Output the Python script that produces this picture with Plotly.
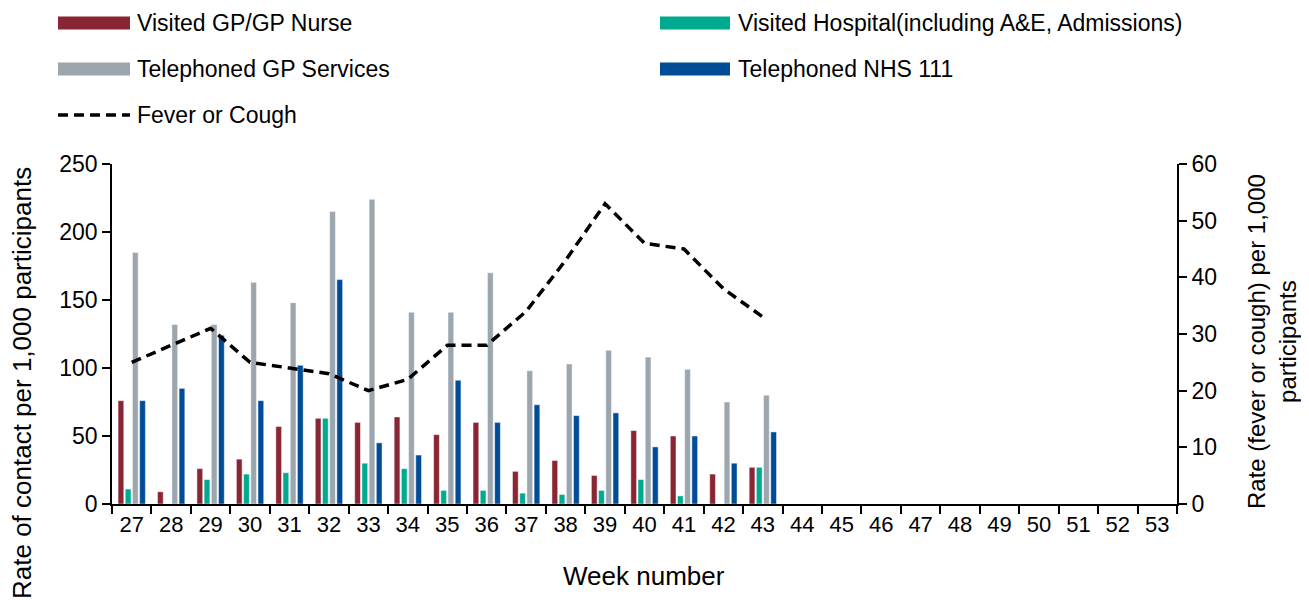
import plotly.graph_objects as go

# ---------------- data ----------------
weeks = ["27", "28", "29", "30", "31", "32", "33", "34", "35", "36", "37", "38", "39",
         "40", "41", "42", "43", "44", "45", "46", "47", "48", "49", "50", "51", "52", "53"]

visited_gp = [76, 9, 26, 33, 57, 63, 60, 64, 51, 60, 24, 32, 21, 54, 50, 22, 27,
              None, None, None, None, None, None, None, None, None, None]
visited_hospital = [11, 0, 18, 22, 23, 63, 30, 26, 10, 10, 8, 7, 10, 18, 6, 0, 27,
                    None, None, None, None, None, None, None, None, None, None]
telephoned_gp = [185, 132, 132, 163, 148, 215, 224, 141, 141, 170, 98, 103, 113, 108, 99, 75, 80,
                 None, None, None, None, None, None, None, None, None, None]
telephoned_111 = [76, 85, 124, 76, 102, 165, 45, 36, 91, 60, 73, 65, 67, 42, 50, 30, 53,
                  None, None, None, None, None, None, None, None, None, None]
fever_cough = [25, 28, 31, 25, 24, 23, 20, 22, 28, 28, 34, 43, 53, 46, 45, 38, 33,
               None, None, None, None, None, None, None, None, None, None]

series_names = ["Visited GP/GP Nurse", "Visited Hospital(including A&E, Admissions)",
                "Telephoned GP Services", "Telephoned NHS 111"]
line_name = "Fever or Cough"

left_ticks = [0, 50, 100, 150, 200, 250]
right_ticks = [0, 10, 20, 30, 40, 50, 60]

# ---------------- style ----------------
colors = ["#8A2634", "#00AA8E", "#9BA6AF", "#004C97"]
FONT = "Arial, Liberation Sans, sans-serif"
OFF = 8  # default page body margin
W, H = 1309 - OFF, 614 - OFF
# plot area in reference-page pixels: x 112..1177, y 164..504
L = 112 - OFF
R = 1309 - 1177
T = 164 - OFF
B = 614 - 504


def px2x(px):
    return (px - OFF - L) / (W - L - R)


def px2y(py):
    return (H - B - (py - OFF)) / (H - T - B)


fig = go.Figure()
for name, vals, col in zip(series_names,
                           [visited_gp, visited_hospital, telephoned_gp, telephoned_111],
                           colors):
    fig.add_trace(go.Bar(x=weeks, y=vals, name=name, marker_color=col,
                         marker_line=dict(color="rgba(255,255,255,0.8)", width=0.6),
                         showlegend=False))

fig.add_trace(go.Scatter(x=weeks, y=fever_cough, name=line_name, yaxis="y2",
                         mode="lines", line=dict(color="black", width=3.5, dash="10px,6px"),
                         showlegend=False))

axis_common = dict(showgrid=False, zeroline=False, showline=True, linecolor="black",
                   linewidth=1.6, ticks="outside", ticklen=8, tickwidth=1.6,
                   tickcolor="black")

fig.update_layout(
    width=W, height=H,
    margin=dict(l=L, r=R, t=T, b=B, autoexpand=False),
    paper_bgcolor="white", plot_bgcolor="white",
    barmode="group", bargap=0.27, bargroupgap=0.2,
    showlegend=False,
    xaxis=dict(type="category", tickson="boundaries",
               tickfont=dict(family=FONT, size=22, color="black"), **axis_common),
    yaxis=dict(range=[0, 250], tickvals=left_ticks,
               tickfont=dict(family=FONT, size=23, color="black"), **axis_common),
    yaxis2=dict(range=[0, 60], tickvals=right_ticks, overlaying="y", side="right",
                tickfont=dict(family=FONT, size=23, color="black"), **axis_common),
)

# ---------------- custom legend ----------------
shapes = []
annotations = []
legend_rows = [(23, [(58, 130, 135, series_names[0], colors[0]),
                     (660, 730, 736, series_names[1], colors[1])]),
               (69, [(58, 130, 135, series_names[2], colors[2]),
                     (660, 730, 736, series_names[3], colors[3])])]
for ry, items in legend_rows:
    for x0, x1, tx, name, col in items:
        shapes.append(dict(type="rect", xref="paper", yref="paper",
                           x0=px2x(x0), x1=px2x(x1), y0=px2y(ry + 6.5), y1=px2y(ry - 6.5),
                           fillcolor=col, line=dict(width=0)))
        annotations.append(dict(x=px2x(tx), y=px2y(ry), xref="paper", yref="paper",
                                text=name, showarrow=False, xanchor="left", yanchor="middle",
                                font=dict(family=FONT, size=23, color="black")))
shapes.append(dict(type="line", xref="paper", yref="paper",
                   x0=px2x(58), x1=px2x(130), y0=px2y(115), y1=px2y(115),
                   line=dict(color="black", width=3.5, dash="10px,6px")))
annotations.append(dict(x=px2x(135), y=px2y(115), xref="paper", yref="paper",
                        text=line_name, showarrow=False, xanchor="left", yanchor="middle",
                        font=dict(family=FONT, size=23, color="black")))

# ---------------- axis titles ----------------
annotations.append(dict(x=px2x(644), y=px2y(576), xref="paper", yref="paper",
                        text="Week number", showarrow=False, xanchor="center",
                        yanchor="middle", font=dict(family=FONT, size=26, color="black")))
annotations.append(dict(x=px2x(22), y=px2y(383), xref="paper", yref="paper",
                        text="Rate of contact per 1,000 participants", showarrow=False,
                        textangle=-90, xanchor="center", yanchor="middle",
                        font=dict(family=FONT, size=26, color="black")))
annotations.append(dict(x=px2x(1272), y=px2y(342), xref="paper", yref="paper",
                        text="Rate (fever or cough) per 1,000<br>participants",
                        showarrow=False, textangle=-90, xanchor="center", yanchor="middle",
                        font=dict(family=FONT, size=24, color="black")))

fig.update_layout(shapes=shapes, annotations=annotations)
fig.write_html("out.html")
